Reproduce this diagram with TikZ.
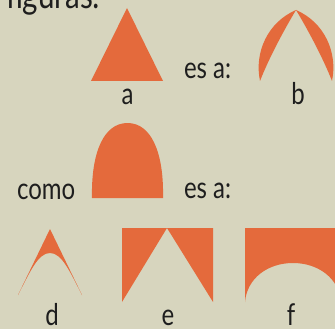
\documentclass[tikz,border=0pt]{standalone}
\usepackage{fontspec}
\setmainfont{Lato}
\definecolor{bgc}{RGB}{215,213,190}
\definecolor{orng}{RGB}{228,106,60}
\definecolor{ink}{RGB}{30,30,30}
\newcommand{\narrowtxt}[1]{\scalebox{0.8}[1]{#1}}
\tikzset{
  shapefill/.style={fill=orng, draw=none},
  lbl/.style={inner sep=0pt, outer sep=0pt, text=ink, font=\fontsize{30}{30}\selectfont, anchor=base},
  lblw/.style={lbl, anchor=base west}
}
\begin{document}
\begin{tikzpicture}[x=1pt,y=-1pt]
\fill[bgc] (0,0) rectangle (335,329);
\useasboundingbox (0,0) rectangle (335,329);
\begin{scope}
\clip (0,0) rectangle (335,329);
% title (cut off)
\node[lblw, font=\fontsize{37}{37}\selectfont] (title) at (6,9) {\narrowtxt{figuras:}};
% a : triangle
\fill[shapefill] (127,8) -- (163,81) -- (91,81) -- cycle;
\node[lbl] (la) at (127.5,105) {\narrowtxt{a}};
\node[lblw] (esa1) at (184,78) {\narrowtxt{es a:}};
% b : two lenses
\fill[shapefill] (296,10) .. controls (268,22) and (254,52) .. (260,81)
   .. controls (269,58) and (284,30) .. (296,10) -- cycle;
\fill[shapefill] (296,10) .. controls (324,22) and (338,52) .. (332,81)
   .. controls (323,58) and (308,30) .. (296,10) -- cycle;
\node[lbl] (lb) at (298,105) {\narrowtxt{b}};
% c : arch
\node[lblw] (como) at (17,199) {\narrowtxt{como}};
\fill[shapefill] (92,198) .. controls (91,152) and (104,123) .. (127.5,123)
   .. controls (151,123) and (164,152) .. (163,198) -- cycle;
\node[lblw] (esa2) at (184,198) {\narrowtxt{es a:}};
% d : pointed arch
\fill[shapefill] (50,229) -- (18,295)
   .. controls (30,272) and (38,253) .. (50,253)
   .. controls (62,253) and (70,272) .. (82,295) -- cycle;
\node[lbl] (ld) at (52,325) {\smash{\narrowtxt{d}}};
% e : two triangles
\fill[shapefill] (122,228) -- (167,228) -- (122,302) -- cycle;
\fill[shapefill] (167,228) -- (213,228) -- (213,302) -- cycle;
\node[lbl] (le) at (168,325) {\smash{\narrowtxt{e}}};
% f : rectangle minus arch
\fill[shapefill] (245,228) -- (341,228) -- (341,302)
   .. controls (339,278) and (318,263) .. (293,263)
   .. controls (268,263) and (247,278) .. (245,302) -- cycle;
\node[lbl] (lf) at (291,325) {\smash{\narrowtxt{f}}};
\end{scope}
\end{tikzpicture}
\end{document}
